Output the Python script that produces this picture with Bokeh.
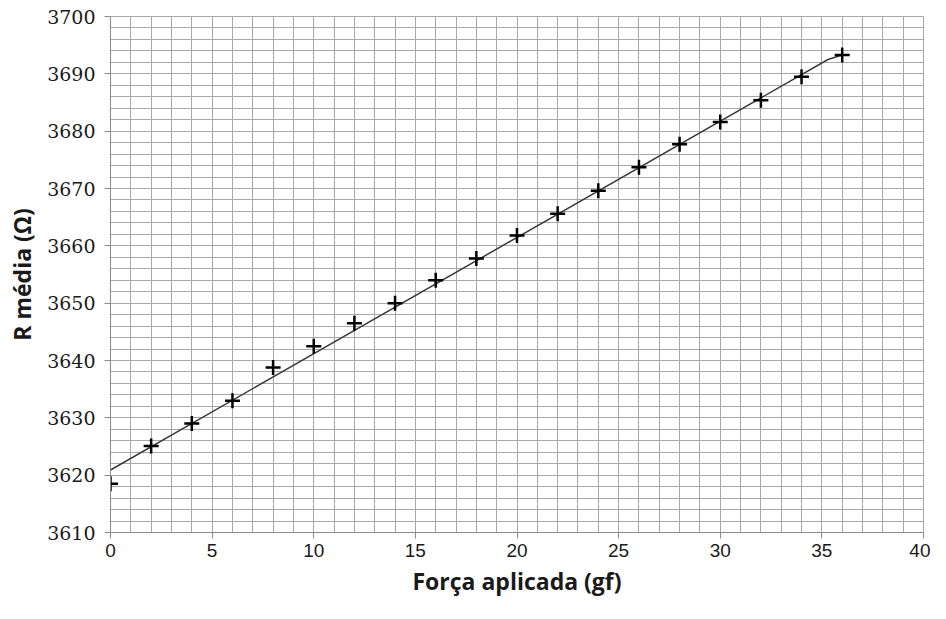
from bokeh.plotting import figure
from bokeh.models import SingleIntervalTicker, Range1d
from bokeh.embed import file_html
from bokeh.resources import INLINE

forca = [0, 2, 4, 6, 8, 10, 12, 14, 16, 18, 20, 22, 24, 26, 28, 30, 32, 34, 36]
r_media = [3618.5, 3625.1, 3629.0, 3633.0, 3638.8, 3642.5, 3646.5, 3650.0, 3654.0,
           3657.8, 3661.8, 3665.6, 3669.6, 3673.7, 3677.7, 3681.6, 3685.4, 3689.5, 3693.3]
ajuste_x = [0, 35.3, 36]
ajuste_y = [3620.9, 3692.5, 3693.3]

x_title = "Força aplicada (gf)"
y_title = "R média (Ω)"

p = figure(width=930, height=603, output_backend="svg", toolbar_location=None,
           x_range=Range1d(0, 40), y_range=Range1d(3610, 3700),
           min_border_left=110, min_border_right=7, min_border_top=16, min_border_bottom=71)

grid_col = "#a8a8a8"
p.xaxis.ticker = SingleIntervalTicker(interval=5, num_minor_ticks=5)
p.yaxis.ticker = SingleIntervalTicker(interval=10, num_minor_ticks=5)
for g in (p.xgrid, p.ygrid):
    g.grid_line_color = grid_col
    g.minor_grid_line_color = grid_col
    g.grid_line_width = 1
    g.minor_grid_line_width = 1
p.outline_line_color = grid_col

for ax in (p.xaxis, p.yaxis):
    ax.axis_line_color = "#8c8c8c"
    ax.major_tick_line_color = "#8c8c8c"
    ax.major_tick_out = 6
    ax.major_tick_in = 0
    ax.minor_tick_line_color = None
    ax.major_label_text_color = "#1a1a1a"
    ax.axis_label_text_color = "#1a1a1a"
    ax.axis_label_text_font = "Open Sans"
    ax.axis_label_text_font_style = "bold"
    ax.axis_label_text_font_size = "23px"

p.xaxis.major_label_text_font = "Liberation Sans"
p.xaxis.major_label_text_font_size = "19px"
p.xaxis.major_label_standoff = 5
p.yaxis.major_label_text_font = "DejaVu Serif"
p.yaxis.major_label_text_font_size = "19px"
p.yaxis.major_label_standoff = 9
p.xaxis.axis_label = x_title
p.yaxis.axis_label = y_title
p.xaxis.axis_label_standoff = 5
p.yaxis.axis_label_standoff = 6

p.line(ajuste_x, ajuste_y, line_color="#3a3a3a", line_width=1.5)
p.scatter(forca, r_media, marker="cross", size=15, line_color="black", line_width=2.5)

open("out.html", "w").write(file_html(p, INLINE))
